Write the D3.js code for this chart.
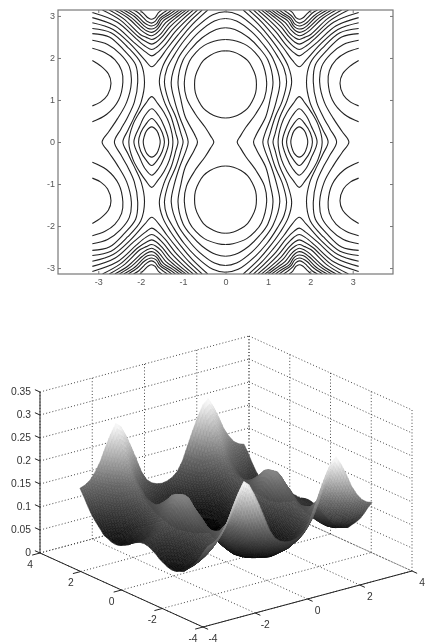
<!DOCTYPE html>
<html>
<head>
<meta charset="utf-8">
<script src="https://d3js.org/d3.v7.min.js"></script>
<style>
body { margin: 0; background: #fff; }
text { font-family: "Liberation Sans", Arial, sans-serif; }
</style>
</head>
<body>
<svg width="426" height="643"></svg>
<script>
// top plot: contour lines, upper right quarter, in data units
const contourTicks = [-3, -2, -1, 0, 1, 2, 3];

const centreStrands = [
  [[0,2.17],[.19,2.14],[.365,2.06],[.52,1.94],[.63,1.77],[.71,1.57],[.73,1.37],[.71,1.17],[.63,.97],[.52,.8],[.365,.68],[.19,.6],[0,.57]],
  [[0,2.44],[.175,2.42],[.5,2.3],[.7,2.13],[.85,1.92],[.97,1.43],[.92,1.05],[.72,.68],[.48,.35],[.35,.14],[.275,0]],
  [[0,2.72],[.22,2.68],[.55,2.48],[.8,2.23],[1,1.95],[1.12,1.43],[1.05,1],[.95,.6],[.74,.2],[.66,0]],
  [[0,2.94],[.26,2.88],[.62,2.62],[.89,2.32],[1.12,1.98],[1.28,1.43],[1.2,.98],[1.08,.59],[.93,.2],[.88,0]],
  [[0,3.1],[.3,3.03],[.7,2.72],[.98,2.41],[1.22,2.05],[1.38,1.75],[1.44,1.43],[1.34,.98],[1.17,.59],[1.05,.2],[1,0]],
  [[.42,3.14],[.78,2.8],[1.05,2.48],[1.3,2.13],[1.48,1.8],[1.56,1.43],[1.45,.98],[1.28,.59],[1.17,.2],[1.12,0]]
];

const edgeStrands = [
  [[3.14,1.94],[2.93,1.8],[2.76,1.62],[2.7,1.4],[2.78,1.12],[2.95,.95],[3.14,.86]],
  [[3.14,2.23],[2.85,2.13],[2.61,1.96],[2.45,1.7],[2.42,1.43],[2.52,1],[2.8,.66],[3.14,.48]],
  [[3.14,2.42],[2.78,2.32],[2.48,2.09],[2.27,1.8],[2.22,1.43],[2.33,.95],[2.55,.55],[2.75,.25],[2.91,0]],
  [[3.14,2.58],[2.74,2.5],[2.39,2.18],[2.12,1.84],[2.07,1.43],[2.15,.95],[2.33,.55],[2.47,.3],[2.62,0]],
  [[3.14,2.7],[2.7,2.6],[2.31,2.26],[2,1.88],[1.91,1.43],[1.99,.95],[2.17,.55],[2.3,.28],[2.42,0]]
];

const bumpStrands = [
  [[1.24,0],[1.32,.42],[1.45,.7],[1.6,.92],[1.74,1.08],[1.88,.92],[2.03,.7],[2.18,.42],[2.28,0]],
  [[1.34,0],[1.45,.38],[1.58,.63],[1.74,.79],[1.9,.63],[2.02,.38],[2.16,0]],
  [[1.44,0],[1.49,.22],[1.6,.42],[1.74,.56],[1.88,.42],[2,.22],[2.05,0]],
  [[1.54,0],[1.56,.12],[1.62,.27],[1.74,.36],[1.86,.27],[1.92,.12],[1.94,0]]
];

const peakStrands = [
  [[.55,3.14],[.85,2.86],[1.12,2.55],[1.38,2.22],[1.58,1.94],[1.74,1.79],[1.9,1.95],[2.24,2.33],[2.65,2.68],[3.14,2.84]],
  [[.66,3.14],[.92,2.9],[1.19,2.62],[1.42,2.32],[1.62,2.12],[1.74,2.05],[1.88,2.14],[2.18,2.39],[2.6,2.76],[3.14,2.96]],
  [[.76,3.14],[1,2.93],[1.25,2.68],[1.46,2.42],[1.62,2.26],[1.74,2.2],[1.88,2.27],[2.11,2.46],[2.55,2.85],[3.14,3.08]],
  [[.85,3.14],[1.07,2.96],[1.31,2.74],[1.5,2.5],[1.63,2.38],[1.74,2.33],[1.88,2.39],[2.06,2.51],[2.48,2.9],[2.9,3.14]],
  [[.93,3.14],[1.14,2.98],[1.36,2.79],[1.52,2.58],[1.64,2.48],[1.74,2.44],[1.87,2.49],[2.01,2.56],[2.4,2.93],[2.74,3.14]],
  [[1.01,3.14],[1.2,3],[1.41,2.84],[1.55,2.66],[1.65,2.57],[1.74,2.53],[1.86,2.57],[1.98,2.65],[2.3,2.95],[2.61,3.14]],
  [[1.09,3.14],[1.26,3.02],[1.46,2.89],[1.58,2.72],[1.66,2.64],[1.74,2.61],[1.85,2.64],[1.96,2.72],[2.22,2.96],[2.5,3.14]],
  [[1.18,3.14],[1.32,3.04],[1.51,2.92],[1.6,2.77],[1.67,2.71],[1.74,2.69],[1.84,2.71],[1.94,2.78],[2.14,2.98],[2.4,3.14]],
  [[1.27,3.14],[1.38,3.06],[1.54,2.95],[1.63,2.81],[1.74,2.76],[1.84,2.79],[1.93,2.85],[2.08,3],[2.29,3.14]],
  [[1.37,3.14],[1.46,3.08],[1.58,2.98],[1.66,2.87],[1.74,2.83],[1.83,2.86],[1.92,2.94],[2.05,3.07],[2.17,3.14]],
  [[1.5,3.14],[1.58,3.08],[1.66,2.96],[1.74,2.92],[1.82,2.95],[1.92,3.05],[2.02,3.14]]
];

// bottom plot: surface heights, upper right quarter, rows go up in y and columns go up in x
const surfaceSamples = [0,.196,.393,.589,.785,.982,1.178,1.374,1.571,1.767,1.963,2.16,2.356,2.553,2.749,2.945,3.142];
const surfaceHeights = [
  [.062,.0645,.071,.077,.0855,.103,.123,.1465,.169,.172,.166,.1425,.124,.109,.099,.091,.088],
  [.0605,.0625,.0675,.0745,.083,.098,.1185,.141,.1665,.17,.16,.1365,.1155,.1035,.095,.0895,.0865],
  [.058,.0595,.0635,.069,.077,.091,.114,.135,.154,.164,.148,.131,.11,.098,.0885,.084,.082],
  [.054,.056,.059,.0645,.0725,.083,.106,.127,.143,.152,.139,.1175,.102,.09,.083,.078,.0765],
  [.05,.051,.0545,.06,.067,.079,.0975,.1175,.134,.142,.13,.11,.096,.0855,.078,.072,.069],
  [.047,.048,.0495,.0555,.0625,.0735,.09,.108,.123,.133,.121,.1045,.091,.0795,.073,.067,.0645],
  [.045,.046,.0485,.053,.0595,.0705,.0875,.1035,.121,.127,.1165,.1,.087,.077,.068,.0625,.06],
  [.045,.046,.048,.052,.057,.068,.0845,.099,.118,.124,.1135,.0975,.084,.074,.065,.06,.058],
  [.045,.046,.0485,.052,.058,.068,.083,.101,.12,.126,.1155,.098,.086,.075,.067,.0615,.059],
  [.048,.049,.051,.055,.0625,.07,.084,.101,.122,.129,.117,.101,.09,.0785,.071,.0665,.063],
  [.053,.0535,.055,.059,.0655,.076,.0875,.104,.127,.134,.124,.108,.095,.0855,.079,.0725,.0665],
  [.055,.0565,.0605,.065,.0735,.0835,.0965,.115,.14,.148,.135,.117,.104,.0925,.086,.0797,.077],
  [.064,.065,.068,.0735,.08,.0905,.105,.127,.15,.16,.147,.128,.114,.104,.096,.09,.087],
  [.0725,.073,.0755,.0825,.09,.101,.116,.14,.165,.178,.165,.145,.13,.118,.108,.102,.098],
  [.0815,.083,.0875,.0935,.1025,.116,.134,.16,.19,.205,.188,.165,.147,.133,.122,.116,.113],
  [.0925,.095,.1,.108,.12,.14,.165,.195,.225,.235,.215,.19,.167,.15,.14,.133,.13],
  [.108,.11,.115,.125,.145,.175,.205,.232,.255,.265,.245,.22,.192,.172,.157,.149,.145]
];
const horizontalTicks = [-4, -2, 0, 2, 4];
const heightTicks = [0, .05, .1, .15, .2, .25, .3, .35];

const svg = d3.select("svg");
const defs = svg.append("defs");
defs.append("filter").attr("id", "soft").append("feGaussianBlur").attr("stdDeviation", .4);
defs.append("filter").attr("id", "softer").append("feGaussianBlur").attr("stdDeviation", .7);

// ---- contour plot
const xTop = d3.scaleLinear().domain([-3.95, 3.95]).range([58, 393]);
const yTop = d3.scaleLinear().domain([-Math.PI, Math.PI]).range([274, 10]);

const upperPlot = svg.append("g").attr("filter", "url(#soft)");

// a strand that ends on an axis runs on as its own mirror image, so the curve stays round there
function unfold(points) {
  const first = points[0], last = points[points.length - 1];
  let run = points;
  if (last[1] === 0) run = run.concat(points.slice(0, -1).reverse().map(function (p) { return [p[0], -p[1]]; }));
  if (last[0] === 0) run = run.concat(points.slice(0, -1).reverse().map(function (p) { return [-p[0], p[1]]; }));
  if (first[1] === 0) run = points.slice(1).reverse().map(function (p) { return [p[0], -p[1]]; }).concat(run);
  if (first[0] === 0) run = points.slice(1).reverse().map(function (p) { return [-p[0], p[1]]; }).concat(run);
  return run;
}

const strands = [...centreStrands, ...edgeStrands, ...bumpStrands, ...peakStrands].map(unfold);
[[1, 1], [-1, 1], [1, -1], [-1, -1]].forEach(function (sign, q) {
  // each quarter only shows its own part, or the mirrored runs would double up
  const x0 = xTop(0), x1 = xTop(sign[0] * 3.95), y0 = yTop(0), y1 = yTop(sign[1] * Math.PI);
  defs.append("clipPath").attr("id", "quarter" + q).append("rect")
    .attr("x", Math.min(x0, x1)).attr("y", Math.min(y0, y1))
    .attr("width", Math.abs(x1 - x0)).attr("height", Math.abs(y1 - y0));
  const line = d3.line()
    .x(function (d) { return xTop(sign[0] * d[0]); })
    .y(function (d) { return yTop(sign[1] * d[1]); })
    .curve(d3.curveCatmullRom);
  upperPlot.append("g").attr("clip-path", "url(#quarter" + q + ")")
    .selectAll("path").data(strands).join("path")
    .attr("d", line)
    .attr("fill", "none")
    .attr("stroke", "#222")
    .attr("stroke-width", 1.1);
});

upperPlot.append("rect")
  .attr("x", 58).attr("y", 10).attr("width", 335).attr("height", 264)
  .attr("fill", "none").attr("stroke", "#777").attr("stroke-width", 1.2);

function styleAxis(g) {
  g.select(".domain").remove();
  g.selectAll("line").attr("stroke", "#777");
  g.selectAll("text").attr("fill", "#555").attr("font-size", 9);
}
upperPlot.append("g").attr("transform", "translate(0,274)")
  .call(d3.axisBottom(xTop).tickValues(contourTicks).tickFormat(String).tickSizeInner(-3).tickPadding(5))
  .call(styleAxis);
upperPlot.append("g").attr("transform", "translate(58,0)")
  .call(d3.axisLeft(yTop).tickValues(contourTicks).tickFormat(String).tickSizeInner(-3).tickPadding(3))
  .call(styleAxis);
upperPlot.append("g").attr("transform", "translate(393,0)")
  .call(d3.axisRight(yTop).tickValues(contourTicks).tickSizeInner(-3).tickFormat(""))
  .call(styleAxis);
upperPlot.append("g").attr("transform", "translate(0,10)")
  .call(d3.axisTop(xTop).tickValues(contourTicks).tickSizeInner(-3).tickFormat(""))
  .call(styleAxis);

// ---- surface plot, flat projection of the box
const xAcross = d3.scaleLinear().domain([-4, 4]).range([203, 412]);
const xDown = d3.scaleLinear().domain([-4, 4]).range([0, -56]);
const yAcross = d3.scaleLinear().domain([-4, 4]).range([0, -163]);
const yDown = d3.scaleLinear().domain([-4, 4]).range([627, 553]);
const zDown = d3.scaleLinear().domain([0, .35]).range([0, -161]);

function project(x, y, z) {
  return [xAcross(x) + yAcross(y), yDown(y) + xDown(x) + zDown(z)];
}
function segment(a, b) {
  return { from: project(a[0], a[1], a[2]), to: project(b[0], b[1], b[2]) };
}

const gridLines = [];
horizontalTicks.forEach(function (t) {
  gridLines.push(segment([t, -4, 0], [t, 4, 0]), segment([t, 4, 0], [t, 4, .35]));
  gridLines.push(segment([-4, t, 0], [4, t, 0]), segment([4, t, 0], [4, t, .35]));
});
heightTicks.forEach(function (t) {
  gridLines.push(segment([-4, 4, t], [4, 4, t]), segment([4, 4, t], [4, -4, t]));
});

const lowerPlot = svg.append("g").attr("filter", "url(#soft)");

function drawSegments(g, data) {
  return g.append("g").selectAll("line").data(data).join("line")
    .attr("x1", function (d) { return d.from[0]; })
    .attr("y1", function (d) { return d.from[1]; })
    .attr("x2", function (d) { return d.to[0]; })
    .attr("y2", function (d) { return d.to[1]; });
}

drawSegments(lowerPlot, gridLines)
  .attr("stroke", "#333").attr("stroke-width", .9).attr("stroke-dasharray", "1,2.2");

const axisLines = [segment([-4, 4, 0], [-4, 4, .35]), segment([-4, 4, 0], [-4, -4, 0]), segment([-4, -4, 0], [4, -4, 0])];
horizontalTicks.forEach(function (t) {
  axisLines.push(segment([t, -4, 0], [t, -4.25, 0]), segment([-4, t, 0], [-4.3, t, 0]));
});
heightTicks.forEach(function (t) {
  axisLines.push(segment([-4, 4, t], [-4, 4.25, t]));
});
drawSegments(lowerPlot, axisLines).attr("stroke", "#222").attr("stroke-width", 1);

// labels sit a fixed distance from their tick
const labels = [];
heightTicks.forEach(function (t) {
  const p = project(-4, 4, t);
  labels.push({ text: String(t), x: p[0] - 9, y: p[1] + 3, anchor: "end" });
});
horizontalTicks.forEach(function (t) {
  const p = project(-4, t, 0);
  labels.push({ text: String(t), x: p[0] - 10, y: p[1] + 14.5, anchor: "middle" });
  const q = project(t, -4, 0);
  labels.push({ text: String(t), x: q[0] + 10, y: q[1] + 15, anchor: "middle" });
});
lowerPlot.append("g").selectAll("text").data(labels).join("text")
  .attr("x", function (d) { return d.x; })
  .attr("y", function (d) { return d.y; })
  .attr("text-anchor", function (d) { return d.anchor; })
  .attr("font-size", 10.3)
  .attr("fill", "#333")
  .text(function (d) { return d.text; });

// unfold the quarter into the full grid; each cell is shaded in small pieces, like interpolated shading
const steps = d3.range(-16, 16);
const pieces = d3.range(0, 1, 1 / 3);
const coord = function (n) { return (n < 0 ? -1 : 1) * surfaceSamples[Math.abs(n)]; };
const heightAt = function (i, j) { return surfaceHeights[Math.abs(j)][Math.abs(i)]; };
const gray = d3.scaleLinear().domain([.044, .15, .265]).range(["#000", "#6a6a6a", "#fff"]);

function blend(i, j, u, v) {
  const x = d3.interpolateNumber(coord(i), coord(i + 1))(u);
  const y = d3.interpolateNumber(coord(j), coord(j + 1))(v);
  const low = d3.interpolateNumber(heightAt(i, j), heightAt(i + 1, j))(u);
  const high = d3.interpolateNumber(heightAt(i, j + 1), heightAt(i + 1, j + 1))(u);
  return { x: x, y: y, z: d3.interpolateNumber(low, high)(v) };
}

const cells = [];
steps.forEach(function (j) {
  steps.forEach(function (i) {
    pieces.forEach(function (v) {
      pieces.forEach(function (u) {
        const corners = [[u, v], [u + 1 / 3, v], [u + 1 / 3, v + 1 / 3], [u, v + 1 / 3]]
          .map(function (c) { return blend(i, j, c[0], c[1]); });
        cells.push({
          points: corners.map(function (c) { return project(c.x, c.y, c.z); }),
          level: d3.mean(corners, function (c) { return c.z; }),
          depth: d3.mean(corners, function (c) { return 20.4 * c.x + 26.1 * c.y; })
        });
      });
    });
  });
});
cells.sort(function (a, b) { return d3.descending(a.depth, b.depth); });

const outline = d3.line();
svg.append("g").attr("filter", "url(#softer)")
  .selectAll("path").data(cells).join("path")
  .attr("d", function (d) { return outline(d.points) + "Z"; })
  .attr("fill", function (d) { return gray(d.level); })
  .attr("stroke", function (d) { return gray(d.level); })
  .attr("stroke-width", .5);
</script>
</body>
</html>
